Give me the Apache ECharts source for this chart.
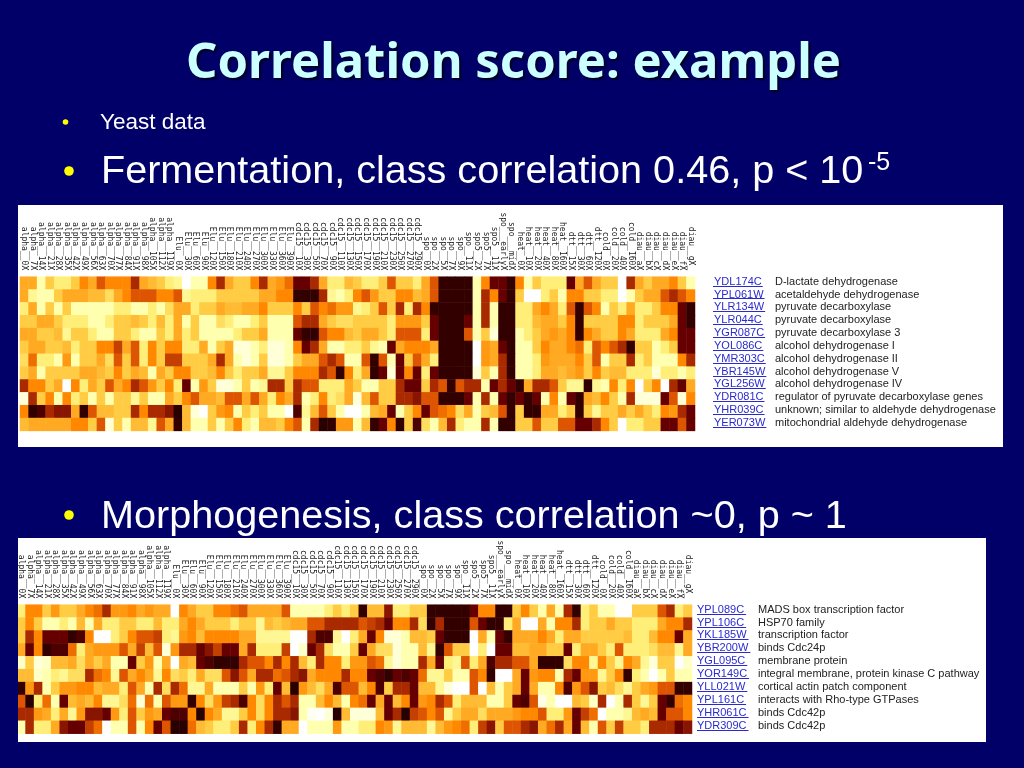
<!DOCTYPE html>
<html>
<head>
<meta charset="utf-8">
<style>html,body{margin:0;padding:0;background:#000068}#c{width:1024px;height:768px}</style>
<script src="https://cdn.jsdelivr.net/npm/echarts@6/dist/echarts.min.js"></script>
</head>
<body>
<div id="c"></div>
<script>
const conditions = [
 'alpha__0X','alpha__7X','alpha__14X','alpha__21X','alpha__28X','alpha__35X','alpha__42X','alpha__49X','alpha__56X','alpha__63X','alpha__70X','alpha__77X','alpha__84X','alpha__91X','alpha__98X','alpha__105X','alpha__112X','alpha__119X',
 'Elu__0X','Elu__30X','Elu__60X','Elu__90X','Elu__120X','Elu__150X','Elu__180X','Elu__210X','Elu__240X','Elu__270X','Elu__300X','Elu__330X','Elu__360X','Elu__390X',
 'cdc15__10X','cdc15__30X','cdc15__50X','cdc15__70X','cdc15__90X','cdc15__110X','cdc15__130X','cdc15__150X','cdc15__170X','cdc15__190X','cdc15__210X','cdc15__230X','cdc15__250X','cdc15__270X','cdc15__290X',
 'spo__0X','spo__2X','spo__5X','spo__7X','spo__9X','spo__11X','spo5__2X','spo5__7X','spo5__11X','spo___earlyX','spo___midX',
 'heat__0X','heat__10X','heat__20X','heat__40X','heat__80X','heat__160X',
 'dtt__15X','dtt__30X','dtt__60X','dtt__120X','cold__0X','cold__20X','cold__40X','cold__160X',
 'diau__aX','diau__bX','diau__cX','diau__dX','diau__eX','diau__fX','diau__gX_'];

const fermentGenes = ['YDL174C','YPL061W','YLR134W','YLR044C','YGR087C','YOL086C','YMR303C','YBR145W','YGL256W','YDR081C','YHR039C','YER073W'];
const fermentNames = ['D-lactate dehydrogenase','acetaldehyde dehydrogenase','pyruvate decarboxylase','pyruvate decarboxylase','pyruvate decarboxylase 3','alcohol dehydrogenase I','alcohol dehydrogenase II','alcohol dehydrogenase V','alcohol dehydrogenase IV','regulator of pyruvate decarboxylase genes','unknown; similar to aldehyde dehydrogenase','mitochondrial aldehyde dehydrogenase'];
const morphGenes = ['YPL089C','YPL106C','YKL185W','YBR200W','YGL095C','YOR149C','YLL021W','YPL161C','YHR061C','YDR309C'];
const morphNames = ['MADS box transcription factor','HSP70 family','transcription factor','binds Cdc24p','membrane protein','integral membrane, protein kinase C pathway','cortical actin patch component','interacts with Rho-type GTPases','binds Cdc42p','binds Cdc42p'];

// expression levels, 0 = white ... 10 = near black
const fermentValues = [
[4,4,1,3,2,2,3,5,4,6, 5,5,5,7,4,3.5,3,2,1.5,0, 1,1,5,7,4,3,3,5,7,4, 4.5,5.5,8,8,7,4,2,2,3.5,3, 2,2,3,6,3,3,2,4,6,9, 9,9,9,1,5,8,8,9,5,1, 3,2,2,2,8,4,6,4,3,3, 0,7,4,3,4,4,5,3,1],
[4,1.5,1,1,3,4,4,4,3.5,3.5, 2.5,4,5,6,6,6,5,5,6,1.5, 2,2,2,3,3,3,3,3,4,4, 5,5,9,9,9,7,1.5,1,2,5, 6,4.5,3,3,5,5,3.5,4,6,9, 9,9,9,1,7,5,8,9,3,0, 0,2,3,1,5,5,3,3,2,2, 0,1,3,4,4,6,7,6,5],
[2,4,1,3,1,3,1,1,1,1, 1,2,2,1,1,2,1,2.5,4,4, 2,3,3,4,3.5,3.5,4,4,5,3, 3,3,5,3,6,5,5.5,4.5,4.5,1.5, 2,3,6,3,7,2,7,5,9,9, 9,9,9,1,7,1,9,9,2,2, 4,5,4,2,6,9,6,5,1,3, 2,4,2,2,3,5,5,8,9],
[3,3,4,4,3,2,2,2,1,1, 2,3,3,3.5,3,2,3.5,2,4,1, 3,1,1,2.5,2,1,1,2,3,1, 1,1,6,7,7,4,3,2.5,2.5,3, 3,3,3,2,4.5,4.5,4.5,3,8,9, 9,9,8,1,7,1,9,9,2,2, 3.5,4,4,3,5,9,3,3,3,3, 5,5,2,3,3,3,4,8,9],
[4,4,3,3,3.5,1.5,3,3,2,1, 1,3,3,2,1,1,3,2,4,2, 3,1,1,1,1,2,3,3,4,1, 1,1,8,9,9,6,5,5,3.5,3, 4,4,3,2,6,6,6,2,8,9, 9,9,6,1,3,0.5,9,9,1,2, 3,4,4.5,4,5,9,5,4,3,3, 5,4,2,2,2,4,5,8,8],
[3,4,4,3,3,3.5,2,3,3,5, 5,6.5,4,6,2,5,3,5,5,2, 2,4,1,3,4,0.5,0.5,1,2,0.5, 0.5,1,5,8,7,4,1,1,2,2, 3,1.5,1,8,4,5,5,5,4,9, 9,9,9,0,4.5,4,8,9,1,1, 3,5,4,4,5,5.5,2,6,5,6, 7,9,3,3,1,2,3,8,8],
[2.5,5.5,2,2,1,4.5,1,3,3,4, 2.5,6,3,6,2,5,3,6.5,6.5,3, 3,3,4,7,4,1,0.5,1,3,0.5, 0.5,1,3,4,4,6,7,6,1,1, 6,9,6,1,8,3,6,4,2,9, 9,9,9,0,4.5,4,7,9,1,1, 2,4.5,4,4,4,5,3,6,1,3, 3,7,2,3,1,1,1,5,7],
[3,4,1,3,3,3,3,4,4,3.5, 3,5,3,4,3.5,1,4,3,5,5, 3,3,3.5,5,3,2,3,3,4,1.5, 1.5,3,5,5,5,7,6,9,5,2, 4,9,8,0.5,8,5,8,2,8,9, 9,9,9,0.5,3,1,7,9,1,1, 2,4,4,3.5,4,4.5,3,5,3,3.5, 3.5,2,2,2,0.5,2,2,1,2],
[7,5,5,3,4,0,5,2,4,3, 6,4,5,7,6,4.5,3,5,2,8, 1,4.5,3,0.5,0.5,1,3,1,1.5,7, 7,3,7,6,6,2,2,2,4,3, 1,1,3,3,7,8,8,3,7,6, 9,6,7,7,1,8,7,8,9,4, 7,7,6,3,1.5,1.5,9,1.5,1,5, 2,5,0,3,5,0,7,8,4],
[0.5,7,3,5,1,5,2,3,1,3, 1,3,3,1.5,3,1,1,4,3,5, 6,4,4,3.5,6,6,4,6,4,2, 5,4,7,1,2,5,2,2.5,4,0.5, 3.5,6,3,3,7,7,7.5,6,6,9, 9,9,8,1,7,1,8,9,8,9, 8,1,5,1,8,9,4,3.5,5,3, 1,7,0.5,0.5,0.5,8,6,0.5,5],
[5,9,8.5,7,7.5,7.5,4,9,6,3.5, 3.5,3,3,7,5,7,7,7.5,9.5,3.5, 0.5,0,3,4.5,5,1,3,2,3,1, 1,0,8.5,1.5,3.5,6,3,1,0,0, 1,3.5,4,8,1,3,5,8,6,5.5, 5,2.5,4,1,3,3.5,6,9,3,9, 9,4,4,2,3,9,3,1.5,3,3, 4,3,4,3,2,5,4.5,7,8],
[3.5,4,4,4,4,4,5,5,3,6, 0.5,3,1,3.5,3.5,1.5,6,4,9,3.5, 1,1,3,1,3,5,2,1,3.5,3.5, 3,5,6,1,7,9.5,9,4.5,4.5,1, 3.5,9,8,5,9,3,8.5,2.5,1,3.5, 7,2,1,1,7,1,9,9,3,3, 6,3,3,6,6,8,8,7,5,3, 0,2,2,3,3,8,8,6,8]
];

const morphValues = [
[2,5,5,3,4.5,3,3,4,5,5.5, 7,4.5,4.5,5,4,4.5,4,4,0,5, 4,3,3,5,5,5.5,6,4,4,4, 4,6,1,1,1,1,2,3,2,3, 9,3.5,3.5,7.5,2,2,3,3,9,9, 9,9,9,8,5,5,9,9,3,5, 3,1,4,1,7,9,2,3,1,1, 0,0,3,3,3,6,7,2,3],
[3,5,3,1,1,2,1,3.5,1,4, 2,2,3,3,2,2,3.5,2,2,4, 5,4,3,3,3,2,3,3,1.5,3.5, 3,3.5,4,4,6,6,7,7,7,7, 6,6.5,7,8,5,5,7,2.5,9,7, 9,9,9,6,8,9,9,2,4,0, 0,4,1,5,5,7,2,3,3,4, 3,3,2,2,2,4,5,5,7],
[3,7,5,8,8,8,9,8.5,5,0, 0,2,3,5,6,6,6.5,2,1.5,4.5, 5,3.5,5,5,5,5,4,4,1.5,1.5, 1.5,1.5,0,0,7,8.5,8.5,1.5,0,2, 4,8,5,0.5,0.5,1,3.5,3.5,3,8, 9,9,9,0,4,1,8,9,4,4, 4,5,4,2,4,4,3,3,3,3, 3,3.5,2,2,3.5,5,5,8,4],
[4,8,5,9,8.5,8.5,5.5,2,4,4.5, 4.5,4.5,6,4,6.5,3.5,6,0.5,4.5,7, 7,8,7.5,6.5,8,8,4,7,2,2, 2,6.5,0,0.7,8,7,2.5,1,1,3, 8,4,2.5,2.5,0.5,1,1,3.5,1.5,9, 6,3,3,0,2,0,8,8,3.5,3.5, 4,4,3,3,8,2,4,4,3,2, 6,2,2,2,2.5,3.5,3.5,1.5,4],
[0.7,3,0.5,0.7,3.5,3.5,4,2.5,4,3, 4,1,1,8,3,4.5,1,4,0,4, 3.5,8,8.5,9,9,9,7,6,6,5, 7,5,7,3.5,2,7,5,5,2,4.5, 4.5,6,5.5,1.5,0.5,1,1,7,4,8, 2,1.5,6,2,4,8.5,7,7,6,6, 4,9,9,9,2.5,5,5,1.5,5,3, 1.5,5,4,1.5,0.5,3,3,0,0.7],
[3.5,3.5,0.7,1,2,1.5,2.5,2.5,7,5.5, 5,1.5,6,4,5,4,1.5,5,2.5,3, 2,4,2.5,2.5,6,7.5,6,4,7,7, 5.5,6,7,7.5,4,5,5,5,7,5, 5,8,8.5,9,8,8.5,8,5.5,1.5,1.5, 3,1,1,6,5,9,0,0,4,8, 4.5,5,5,1,7,8,4.5,4.5,1.5,3, 5,9,2,1,0,1,3,1,1],
[9,4.5,7,1,3,4.5,4.5,5,5,3.5, 4,4,2,6,4,1,7,2.5,7,5.5, 1.5,1.5,4,1,1,1,3,1,4.5,2, 8,3.5,9.5,4.5,3.5,2.5,4,8.5,6,6, 3.5,5,8.5,3,7,7,8,3.5,3.5,1.5, 0.5,0,0,6,0,3.5,1,3,4,8, 4,1,1,5,8.5,4.5,6,7.5,3,3.5, 2.5,1.5,3,4,4.5,6,6,9,9],
[6,9.5,2,5.5,1,8,3.5,4,3.5,5, 1.5,1.5,2.5,5.5,0.5,5.5,1,6,4.5,4.5, 9,5,2.5,4.5,6.5,7,8.5,5,2.5,5, 7,6,7,1,1,3.5,5,3.5,1,5, 5.5,8,4,8,3.5,5,8,4.5,5,7, 6,2,3.5,3.5,3.5,1,1,3,8,8.5, 6,0.3,1,0,0,3.5,3,0.7,7,0, 1,7,3,1.5,3,8,9,5.5,5],
[7,7,4.5,4,2,4,1.5,4.5,7.5,7.5, 8,4.5,2,6,3,4.5,4,8,8.5,8.5, 5,9.5,5,4,1.5,1.5,3,5,2.5,5, 7,7,7.5,1,0.2,0,0.5,9.5,3.5,0.5, 0.5,0.5,3.5,8,7,9.5,6.5,6,5,6, 1.5,3,4,4,2.5,4,4,4,4.5,5, 5,6,2,2,4.5,8,6.5,5.5,0,1, 1,1.5,3.5,4,3.5,8,6,6,5],
[1,7,2,2,4,7.5,8,8,6.5,5.5, 0,1,1,6,1,5,8,6,9.5,9.5, 5.5,3.5,3,2,2,3,7,2,5,7, 9,4,4,0,1,1,1,4.5,1,1, 2,2,5,4.5,1.5,3.5,3.5,3.5,1.5,3.5, 4.5,5,5.5,2,6.5,7.5,3,6,6,7, 7.5,4,5.5,7,4,8,3.5,1,6,3, 6.5,3,3,2,7,7,7,8,7.5]
];

const heatColors = ['#ffffff','#ffffb0','#ffee77','#ffcc44','#ffaa22','#ff8800','#dd5500','#aa2a00','#660000','#330000','#1c0000'];
const idFont = '11px "Liberation Sans"';

function cells(rows){const out=[];rows.forEach((r,y)=>r.forEach((v,x)=>out.push([x,y,v])));return out;}
const chart = echarts.init(document.getElementById('c'),null,{renderer:'canvas'});

const G1 = {left:20, top:276.7, width:675, height:154.2};
const G2 = {left:17, top:604.7, width:675, height:129};

function xAxis(i){return {type:'category',gridIndex:i,position:'top',data:conditions,
  axisLine:{show:false},axisTick:{show:false},splitLine:{show:false},
  axisLabel:{interval:0,rotate:90,margin:6.5,fontFamily:'"DejaVu Sans Mono"',fontSize:8,color:'#222'}};}
function yAxis(i,genes,names,margin){return {type:'category',gridIndex:i,position:'right',inverse:true,data:genes,
  axisLine:{show:false},axisTick:{show:false},splitLine:{show:false},
  axisLabel:{interval:0,margin:margin,align:'left',
    formatter:(v,idx)=>'{id|'+v+'}{d|'+names[idx]+'}',
    rich:{id:{fontFamily:'"Liberation Sans"',fontSize:11,color:'#2a2ad0',width:61,align:'left',padding:[0,0,3,0]},
          d:{fontFamily:'"Liberation Sans"',fontSize:11,color:'#222',align:'left',padding:[0,0,3,0]}}}};}

const measure = document.createElement('canvas').getContext('2d');
measure.font = idFont;
function underlines(g,genes,x){const h=g.height/genes.length;return genes.map((id,i)=>({type:'rect',z:10,
  shape:{x:x,y:Math.round(g.top+h*i+h/2+2.5),width:measure.measureText(id).width+2,height:1},style:{fill:'#2a2ad0'}}));}

function text(x,y,t,size,extra){return Object.assign({type:'text',x:x,y:y,z:5,
  style:{text:t,fontFamily:'"Liberation Sans"',fontSize:size,fill:'#fff',verticalAlign:'middle'}},extra||{});}
function dot(x,y,r){return {type:'circle',z:5,shape:{cx:x,cy:y,r:r},style:{fill:'#ffff00'}};}

chart.setOption({
  animation:false,
  backgroundColor:'#000068',
  title:{text:'Correlation score: example',left:181,top:35,
    textStyle:{fontFamily:'"Noto Sans"',fontWeight:'bold',fontSize:49,color:'#ccffff',textShadowColor:'#000022',textShadowBlur:2,textShadowOffsetX:2,textShadowOffsetY:2}},
  grid:[Object.assign({containLabel:false},G1),Object.assign({containLabel:false},G2)],
  xAxis:[xAxis(0),xAxis(1)],
  yAxis:[yAxis(0,fermentGenes,fermentNames,19),yAxis(1,morphGenes,morphNames,5)],
  visualMap:[{type:'continuous',show:false,min:0,max:10,seriesIndex:[0,1],inRange:{color:heatColors}}],
  series:[
    {type:'heatmap',xAxisIndex:0,yAxisIndex:0,data:cells(fermentValues),silent:true,progressive:0,z:3},
    {type:'heatmap',xAxisIndex:1,yAxisIndex:1,data:cells(morphValues),silent:true,progressive:0,z:3}
  ],
  graphic:[
    {type:'rect',z:-10,zlevel:-1,shape:{x:18,y:205,width:985,height:242},style:{fill:'#fff'}},
    {type:'rect',z:-10,zlevel:-1,shape:{x:18,y:538,width:968,height:204},style:{fill:'#fff'}},
    {type:'rect',z:20,shape:{x:16,y:600,width:2,height:140},style:{fill:'#000068'}},
    dot(65.5,122,2.8),text(100,123,'Yeast data',22.5),
    dot(69,171,4.8),text(101,172,'Fermentation, class correlation 0.46, p < 10',39.6),
    text(868,163,'-5',25),
    dot(69,515,4.8),text(101,517,'Morphogenesis, class correlation ~0, p ~ 1',39.6),
    ...underlines(G1,fermentGenes,713),
    ...underlines(G2,morphGenes,697)
  ]
});
</script>
</body>
</html>
